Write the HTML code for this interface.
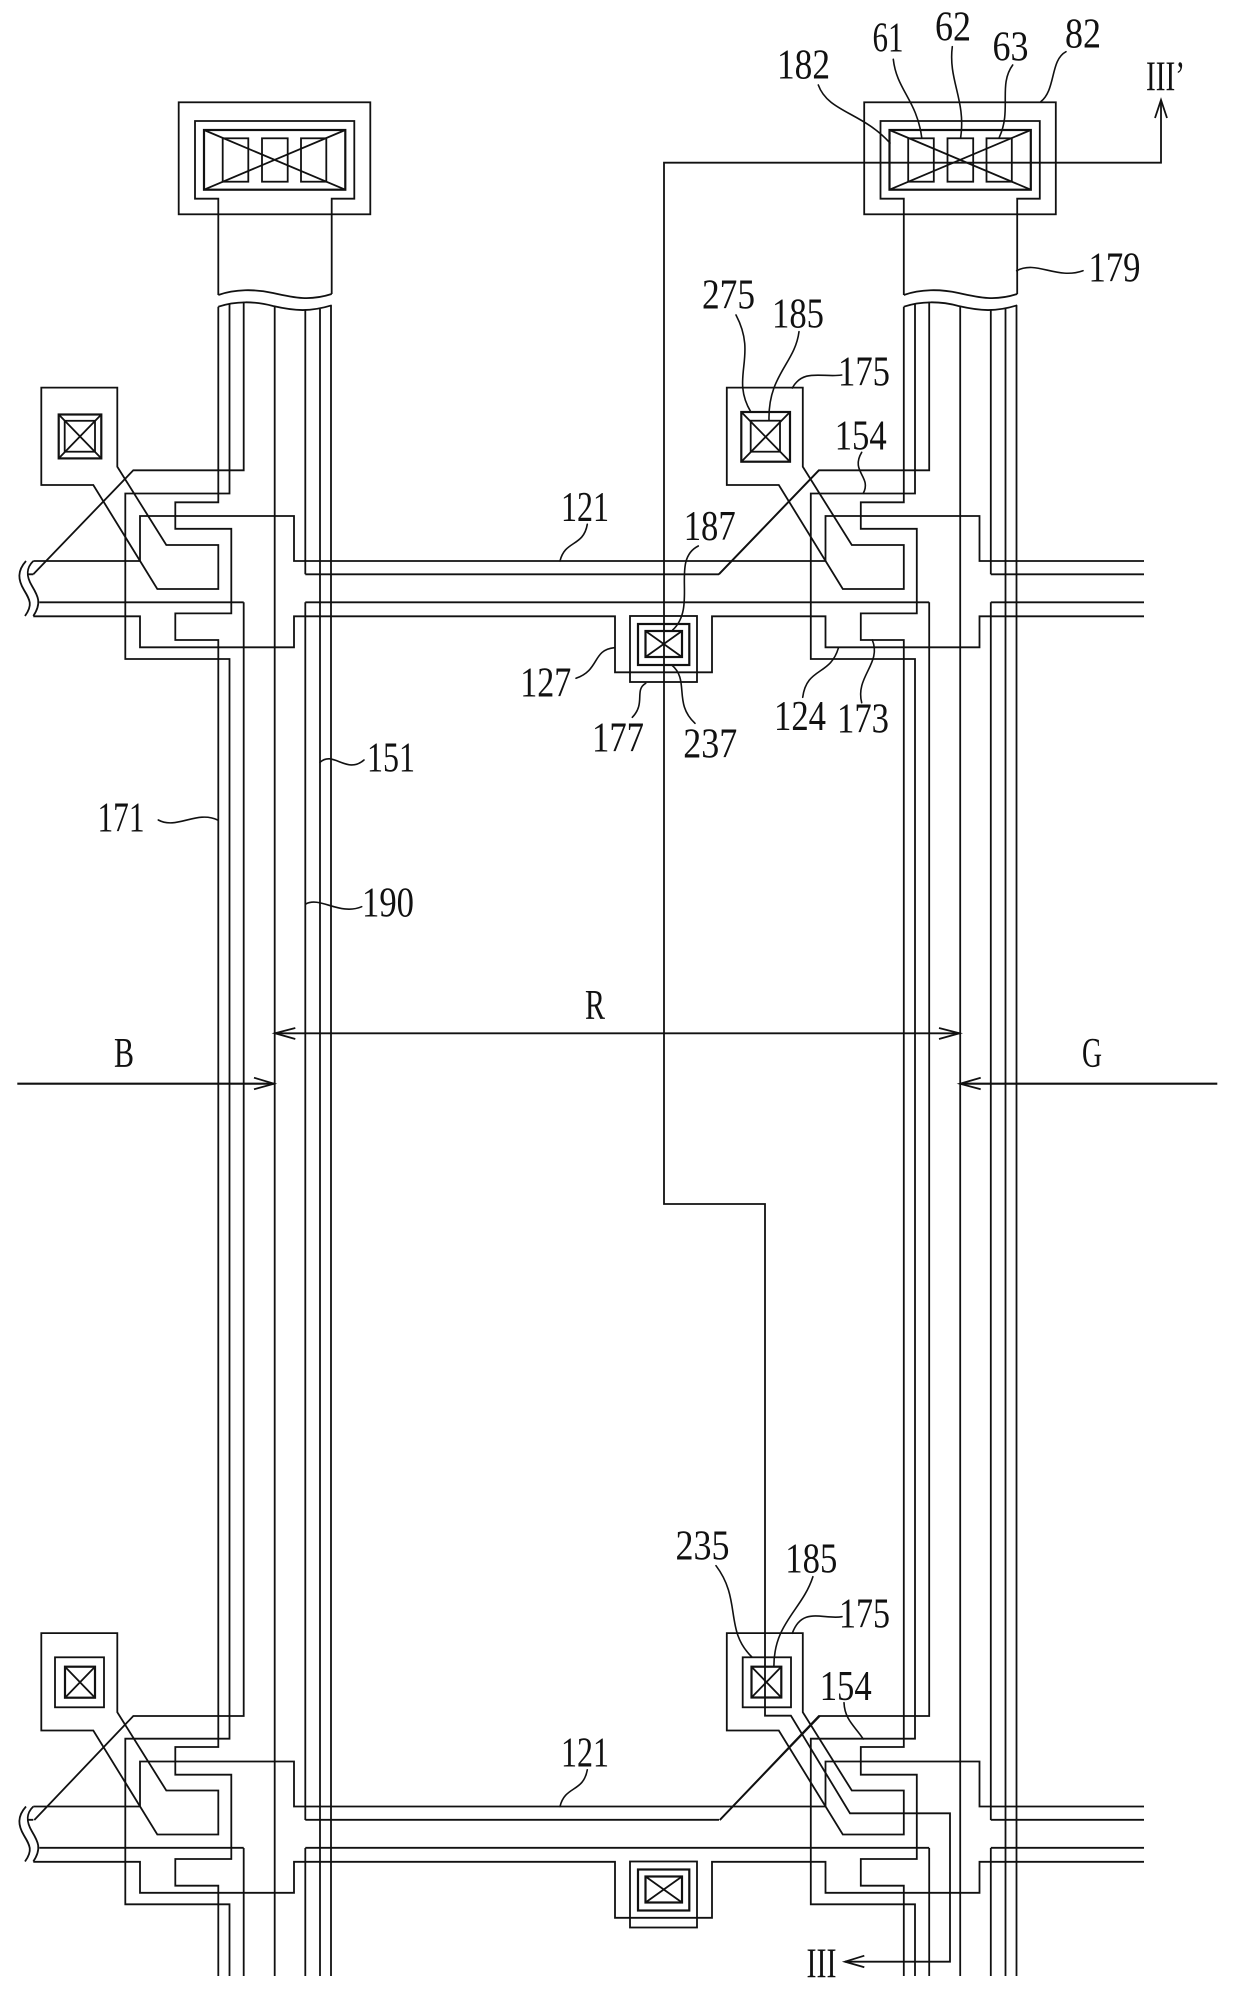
<!DOCTYPE html>
<html>
<head>
<meta charset="utf-8">
<title>Pixel layout diagram</title>
<style>
html,body{margin:0;padding:0;background:#fff}
svg{display:block}
.l{fill:none;stroke:#111;stroke-width:1.8;stroke-linejoin:miter}
.h{fill:none;stroke:#111;stroke-width:2.2}
.c{fill:none;stroke:#111;stroke-width:1.6;stroke-linecap:round}
text{font-family:"Liberation Serif",serif;font-size:42px;fill:#111}
</style>
</head>
<body>
<svg xmlns="http://www.w3.org/2000/svg" width="1240" height="1995" viewBox="0 0 1240 1995">
<rect width="1240" height="1995" fill="#fff"/>
<defs>
<g id="pad">
<rect class="l" x="178.7" y="102.3" width="191.6" height="112"/>
<path class="l" d="M218.3 295V198.7H195V121H354.3V198.7H331.7V294"/>
<rect class="h" x="204" y="130" width="141.3" height="59.7"/>
<path class="l" d="M204 130L345.3 189.7M345.3 130L204 189.7"/>
<rect class="l" x="222.7" y="138.3" width="25.6" height="43.4"/>
<rect class="l" x="262" y="138.3" width="25.7" height="43.4"/>
<rect class="l" x="301" y="138.3" width="25.3" height="43.4"/>
<path class="l" d="M218.3 295C235 289 255 289 273 293C295 298 310 301 331.7 294"/>
<path class="l" d="M218.3 306.7C235 301 255 301 273 306C295 311 310 312 331.7 305.3"/>
</g>
<g id="col">
<path class="l" d="M218.3 306.7V502.3H175.3V528.8H231.3V613.4H175.3V640H218.3V1747H175.3V1774.7H231.3V1859H175.3V1885.7H218.3V1976"/>
<path class="l" d="M229.5 304V493.5H125.3V659H229.5V1738.7H125.3V1904.3H229.5V1976"/>
<path class="l" d="M243.7 301.7V470.3H133.3L33.3 574.3"/>
<path class="l" d="M243.7 602.3V1716H133.3L34.3 1820"/>
<path class="l" d="M243.7 1848V1976"/>
<path class="l" d="M274.7 306.5V1976"/>
<path class="l" d="M305.3 310V574.3M305.3 602.3V1820M305.3 1848V1976"/>
<path class="l" d="M320 309V1976"/>
<path class="l" d="M331 305.3V1976"/>
<path class="l" d="M41.3 387.6H117.3V466.7L166.3 545H218.3V589H157.3L93.3 485H41.3Z"/>
<path class="l" d="M41.3 1633.1H117.3V1712.2L166.3 1790.5H218.3V1834.5H157.3L93.3 1730.5H41.3Z"/>
</g>
<g id="wave">
<path class="l" d="M26 561C17 571 18 580 24 590C30 600 33 605 25 616"/>
<path class="l" d="M33.3 561C26 568 26 576 32 586C38 596 42 603 33.3 616"/>
<path class="l" d="M33.3 574.3H27.5M39.3 602.3H243.7"/>
</g>
<g id="row">
<path class="l" d="M33.3 561H140V516H294V561H825.5V516H979.5V561H1144"/>
<path class="l" d="M305.3 574.3H719"/>
<path class="l" d="M990.8 574.3H1144"/>
<path class="l" d="M305.3 602.3H929.2"/>
<path class="l" d="M990.8 602.3H1144"/>
<path class="l" d="M33.3 616.3H140V647.3H294V616.3H615V672.3H712V616.3H825.5V647.3H979.5V616.3H1144"/>
<rect class="l" x="630" y="616" width="67" height="66"/>
<rect class="h" x="638" y="624" width="51.3" height="41"/>
<rect class="h" x="645.5" y="631" width="36.5" height="26"/>
<path class="l" d="M645.5 631L682 657M682 631L645.5 657"/>
</g>
</defs>

<use href="#pad"/>
<use href="#pad" x="685.5"/>
<use href="#col"/>
<use href="#col" x="685.5"/>
<use href="#row"/>
<use href="#row" y="1245.5"/>
<use href="#wave"/>
<use href="#wave" y="1245.5"/>

<path class="l" d="M719 574.3L819 470.3M719.8 1820L819.8 1716"/>

<rect class="h" x="58.7" y="414.5" width="42.6" height="43.9"/>
<rect class="l" x="64.7" y="420.8" width="30.3" height="30.9"/>
<path class="l" d="M58.7 414.5L101.3 458.4M101.3 414.5L58.7 458.4"/>

<rect class="h" x="741.3" y="412" width="48.7" height="49.7"/>
<rect class="l" x="750.7" y="420.7" width="29.3" height="31"/>
<path class="l" d="M741.3 412L790 461.7M790 412L741.3 461.7"/>

<rect class="l" x="55" y="1657.3" width="49" height="50"/>
<rect class="h" x="65" y="1666.7" width="30" height="31"/>
<path class="l" d="M65 1666.7L95 1697.7M95 1666.7L65 1697.7"/>

<rect class="l" x="742.7" y="1657.3" width="48.3" height="50"/>
<rect class="h" x="751.5" y="1666.7" width="29.8" height="30.8"/>
<path class="l" d="M751.5 1666.7L781.3 1697.5M781.3 1666.7L751.5 1697.5"/>

<path class="l" d="M1161 100V162.7H664V1204H765V1715.7H790.9L850 1813.3H950V1961.7H845"/>
<path class="l" d="M1155 118L1161 100L1167 118M864.3 1955.7L845 1961.7L864.3 1967.3"/>

<path class="l" d="M275 1033.3H959.5"/>
<path class="l" d="M295.3 1028L275 1033.3L295.3 1039M939 1028L959.5 1033.3L939 1039"/>
<path class="h" d="M17.3 1083.7H274"/>
<path class="l" d="M254 1077.7L274 1083.7L254 1089.3"/>
<path class="h" d="M1217.3 1083.7H960"/>
<path class="l" d="M980.7 1077.7L960 1083.7L980.7 1089.3"/>

<path class="c" d="M818.3 85C828 112 862 112 890 143"/>
<path class="c" d="M893.3 59.3C896.7 90 916.7 100 921.7 137.3"/>
<path class="c" d="M952.3 46.7C948 80 966 100 960.7 137.3"/>
<path class="c" d="M1012.7 65C998 85 1012 110 999.3 137.3"/>
<path class="c" d="M1066 51.7C1050 60 1056 90 1040.7 101.7"/>
<path class="c" d="M1016.7 270.7C1036.7 260 1056.7 280 1083 270.7"/>
<path class="c" d="M792.3 388C803.3 368 823.3 378 841.7 375"/>
<path class="c" d="M799 331.7C795 363.3 768 375 769 420"/>
<path class="c" d="M736 315C758 356.7 730 376.7 750.7 411.7"/>
<path class="c" d="M861.7 452.3C850 471.7 872 476.7 863.3 493.3"/>
<path class="c" d="M838.3 648.3C830 676 806.7 667 802.7 697.3"/>
<path class="c" d="M872.3 640C882 663.3 855 676.7 861.7 702.7"/>
<path class="c" d="M587.3 524.3C583.3 547 565 540 560 561"/>
<path class="c" d="M698.3 546C670 560 698 606.7 672.7 630"/>
<path class="c" d="M614.3 647.7C592 650 600 670 576 678.3"/>
<path class="c" d="M645.7 683.3C634 690 646 703.3 632.3 717.3"/>
<path class="c" d="M671.7 665C690 680 673 703.3 695 723.3"/>
<path class="c" d="M158.3 820C176.7 830 196.7 810 217.7 820"/>
<path class="c" d="M320 762.3C333.3 750 346.7 775 364 760"/>
<path class="c" d="M305.7 904C320 896 340 916 361.7 906.7"/>
<path class="c" d="M716 1565.7C742 1600 724 1630 751.9 1657"/>
<path class="c" d="M812.9 1576.7C802.2 1610 773.9 1623 773.9 1666"/>
<path class="c" d="M792.3 1633.3C802.2 1606 823.5 1620 842 1616.7"/>
<path class="c" d="M844 1702.7C844.7 1720 855.4 1726.7 863.2 1739"/>
<path class="c" d="M587.3 1769.8C583.3 1792.5 565 1785.5 560 1806.5"/>

<text x="777" y="78.7" textLength="53" lengthAdjust="spacingAndGlyphs">182</text>
<text x="872.5" y="51.7" textLength="31" lengthAdjust="spacingAndGlyphs">61</text>
<text x="935" y="40.7" textLength="36" lengthAdjust="spacingAndGlyphs">62</text>
<text x="992.5" y="60.7" textLength="36" lengthAdjust="spacingAndGlyphs">63</text>
<text x="1065" y="47.7" textLength="36" lengthAdjust="spacingAndGlyphs">82</text>
<text x="1146" y="90.7" textLength="39" lengthAdjust="spacingAndGlyphs">III’</text>
<text x="1088.5" y="281.7" textLength="52" lengthAdjust="spacingAndGlyphs">179</text>
<text x="838" y="385.7" textLength="52" lengthAdjust="spacingAndGlyphs">175</text>
<text x="772" y="327.3" textLength="52" lengthAdjust="spacingAndGlyphs">185</text>
<text x="702" y="308.3" textLength="53" lengthAdjust="spacingAndGlyphs">275</text>
<text x="834.7" y="449.3" textLength="52" lengthAdjust="spacingAndGlyphs">154</text>
<text x="774" y="730" textLength="52" lengthAdjust="spacingAndGlyphs">124</text>
<text x="837" y="732.7" textLength="52" lengthAdjust="spacingAndGlyphs">173</text>
<text x="561" y="521" textLength="48" lengthAdjust="spacingAndGlyphs">121</text>
<text x="683.7" y="540" textLength="52" lengthAdjust="spacingAndGlyphs">187</text>
<text x="520.3" y="696.7" textLength="51" lengthAdjust="spacingAndGlyphs">127</text>
<text x="592" y="751.7" textLength="52" lengthAdjust="spacingAndGlyphs">177</text>
<text x="683.3" y="757.3" textLength="54" lengthAdjust="spacingAndGlyphs">237</text>
<text x="97.5" y="831.7" textLength="47" lengthAdjust="spacingAndGlyphs">171</text>
<text x="367" y="771.7" textLength="48" lengthAdjust="spacingAndGlyphs">151</text>
<text x="362" y="916.7" textLength="52" lengthAdjust="spacingAndGlyphs">190</text>
<text x="585" y="1019" textLength="20" lengthAdjust="spacingAndGlyphs">R</text>
<text x="114" y="1067" textLength="20" lengthAdjust="spacingAndGlyphs">B</text>
<text x="1082" y="1067" textLength="20" lengthAdjust="spacingAndGlyphs">G</text>
<text x="675.5" y="1559.3" textLength="54" lengthAdjust="spacingAndGlyphs">235</text>
<text x="785.3" y="1572.3" textLength="52" lengthAdjust="spacingAndGlyphs">185</text>
<text x="839" y="1627.3" textLength="51" lengthAdjust="spacingAndGlyphs">175</text>
<text x="819.7" y="1700" textLength="52" lengthAdjust="spacingAndGlyphs">154</text>
<text x="561" y="1766.5" textLength="48" lengthAdjust="spacingAndGlyphs">121</text>
<text x="806.5" y="1977.3" textLength="30" lengthAdjust="spacingAndGlyphs">III</text>
</svg>
</body>
</html>
